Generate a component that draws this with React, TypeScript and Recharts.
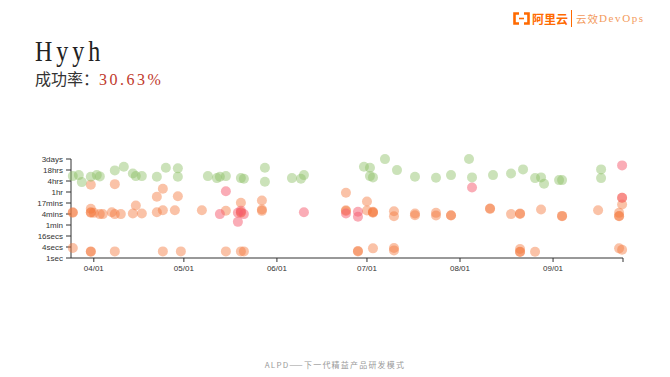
import { ScatterChart, Scatter, XAxis, YAxis } from "recharts";

// run results: [date, duration in seconds]
const successRuns: [string, number][] = [
  ['03/25', 30400], ['03/27', 34400], ['03/28', 14230], ['03/31', 28130], ['04/02', 34400],
  ['04/03', 29250], ['04/08', 62400], ['04/11', 99700], ['04/14', 42600], ['04/15', 30400],
  ['04/17', 30400], ['04/22', 28130], ['04/25', 87700], ['04/29', 80500], ['04/29', 28130],
  ['05/09', 30400], ['05/12', 23600], ['05/13', 28130], ['05/15', 30400], ['05/20', 23600],
  ['05/21', 21860], ['05/28', 87700], ['05/28', 14950], ['06/06', 23600], ['06/09', 21860],
  ['06/10', 34400], ['06/30', 99700], ['07/02', 87700], ['07/02', 30400], ['07/03', 25800],
  ['07/07', 259000], ['07/11', 64600], ['07/17', 28130], ['07/24', 24840], ['07/29', 34400],
  ['08/04', 262000], ['08/05', 25800], ['08/12', 34400], ['08/18', 42600], ['08/22', 70800],
  ['08/26', 23600], ['08/28', 25800], ['08/29', 11590], ['09/03', 18300], ['09/04', 18300],
  ['09/17', 70800], ['09/17', 23600],
];

const failedRuns: [string, number][] = [
  ['03/31', 10230], ['04/08', 11030], ['04/22', 2245], ['04/24', 6170], ['04/29', 2420], ['04/15', 745],
  ['03/25', 320], ['03/25', 300], ['03/31', 491], ['03/31', 320], ['03/31', 300], ['04/01', 296],
  ['04/03', 252], ['04/04', 252], ['04/07', 320], ['04/08', 252], ['04/10', 252], ['04/14', 270],
  ['04/17', 270], ['04/22', 320], ['04/24', 412], ['04/28', 412], ['05/07', 412],
  ['03/25', 3.54], ['03/31', 2.3], ['03/31', 2.2], ['04/08', 2.3], ['04/24', 2.3], ['04/30', 2.3],
  ['05/15', 383], ['05/20', 1049], ['05/27', 1409], ['05/27', 452], ['05/27', 380], ['05/20', 320], ['05/20', 300],
  ['06/24', 3717], ['06/24', 412], ['06/24', 370], ['07/01', 1238], ['07/01', 397],
  ['07/03', 320], ['07/03', 300], ['07/03', 340], ['07/10', 362], ['07/10', 193],
  ['07/17', 270], ['07/17', 219], ['07/24', 296], ['07/24', 211], ['07/29', 219], ['07/29', 210],
  ['05/15', 2.3], ['05/20', 2.3], ['05/21', 2.3], ['06/28', 2.42], ['06/28', 2.3],
  ['07/03', 3.37], ['07/10', 3.54], ['07/10', 2.61],
  ['08/11', 512], ['08/11', 490], ['08/18', 252], ['08/21', 270], ['08/21', 260], ['08/28', 452],
  ['09/04', 202], ['09/04', 195], ['09/16', 412], ['09/23', 296], ['09/23', 193], ['09/23', 200],
  ['09/24', 843], ['09/24', 1964],
  ['08/21', 3.12], ['08/21', 2.14], ['08/21', 2.2], ['08/26', 2.22], ['09/23', 3.37], ['09/24', 2.85],
];

const canceledRuns: [string, number][] = [
  ['05/15', 4550], ['05/13', 252], ['05/19', 95], ['05/21', 252], ['05/19', 300], ['05/20', 380],
  ['06/10', 320], ['06/24', 270], ['06/28', 343], ['06/28', 179], ['08/05', 7230],
  ['09/24', 117000], ['09/24', 1964],
];

const xTickDates = ['04/01', '05/01', '06/01', '07/01', '08/01', '09/01'];
const yTickValues = [1, 4, 16, 64, 256, 1024, 4096, 16384, 65536, 262144];
const yTickLabels = ['1sec', '4secs', '16secs', '1min', '4mins', '17mins', '1hr', '4hrs', '18hrs', '3days'];

const dayOf = (s: string) => {
  const [m, d] = s.split('/').map(Number);
  return (Date.UTC(2019, m - 1, d) - Date.UTC(2019, 3, 1)) / 86400000;
};
const toPoints = (rows: [string, number][]) => rows.map(([date, sec]) => ({ day: dayOf(date), sec }));

const X_END = 176.3;
const xTicks = [...xTickDates.map(dayOf), X_END];

const dot = (fill: string) => (p: any) => (
  <circle cx={p.cx} cy={p.cy} r={5} fill={fill} />
);

const tickStyle = { fontSize: 8, fill: '#333', fontFamily: 'Liberation Sans, Arial, sans-serif' };

function Logo() {
  return (
    <div style={{ position: 'absolute', left: 513, top: 9, height: 18, display: 'flex', alignItems: 'center' }}>
      <svg width="17" height="13" viewBox="0 0 17 13">
        <path d="M6 1.5 H1.5 V11.5 H6" fill="none" stroke="#ff6a00" strokeWidth="2.6" />
        <path d="M11 1.5 H15.5 V11.5 H11" fill="none" stroke="#ff6a00" strokeWidth="2.6" />
        <line x1="6" y1="6.5" x2="11" y2="6.5" stroke="#ff6a00" strokeWidth="1.6" />
      </svg>
      <span style={{ marginLeft: 2, fontFamily: 'Noto Sans CJK SC', fontWeight: 700, fontSize: 12, color: '#ff6a00' }}>阿里云</span>
      <span style={{ width: 1, height: 17, background: '#ff6a00', marginLeft: 3, marginRight: 4 }} />
      <span style={{ fontFamily: 'Noto Sans CJK SC', fontSize: 10.5, color: '#f39a5c', letterSpacing: 1 }}>云效</span>
      <span style={{ fontFamily: 'Liberation Serif', fontSize: 11, color: '#f39a5c', letterSpacing: 1.6 }}>DevOps</span>
    </div>
  );
}

export default function App() {
  return (
    <div style={{ position: 'fixed', left: 0, top: 0, width: 670, height: 377, background: '#fff', overflow: 'hidden' }}>
      <Logo />
      <div style={{
        position: 'absolute', left: 35, top: 36, fontFamily: 'Liberation Serif', fontSize: 30, lineHeight: '30px',
        color: '#222', letterSpacing: 5, transform: 'scaleX(0.8)', transformOrigin: 'left top', whiteSpace: 'nowrap'
      }}>Hyyh</div>
      <div style={{ position: 'absolute', left: 35, top: 69, whiteSpace: 'nowrap', lineHeight: '18px' }}>
        <span style={{ fontFamily: 'Noto Sans CJK SC', fontSize: 16, color: '#333' }}>成功率：</span>
        <span style={{ fontFamily: 'Liberation Serif', fontSize: 16, color: '#c0392b', letterSpacing: 2.5 }}>30.63%</span>
      </div>

      <div style={{ position: 'absolute', left: 0, top: 0 }}>
        <ScatterChart width={670} height={377} margin={{ top: 159, right: 47, bottom: 89, left: 11 }}>
          <XAxis
            type="number"
            dataKey="day"
            domain={[-7.6, X_END]}
            ticks={xTicks}
            interval={0}
            tickFormatter={(v: number) => {
              const i = xTicks.indexOf(v);
              return i >= 0 && i < xTickDates.length ? xTickDates[i] : '';
            }}
            height={30}
            tickSize={4}
            tickMargin={3}
            tick={tickStyle}
            stroke="#333"
          />
          <YAxis
            type="number"
            dataKey="sec"
            scale="log"
            domain={[1, 262144]}
            ticks={yTickValues}
            interval={0}
            tickFormatter={(v: number) => yTickLabels[yTickValues.indexOf(v)] ?? ''}
            width={60}
            tickSize={5}
            tickMargin={3}
            tick={tickStyle}
            stroke="#333"
          />
          <Scatter data={toPoints(failedRuns)} shape={dot('rgba(244,120,60,0.45)')} isAnimationActive={false} />
          <Scatter data={toPoints(canceledRuns)} shape={dot('rgba(245,90,110,0.5)')} isAnimationActive={false} />
          <Scatter data={toPoints(successRuns)} shape={dot('rgba(140,190,100,0.45)')} isAnimationActive={false} />
        </ScatterChart>
      </div>

      <div style={{
        position: 'absolute', left: 0, top: 360, width: 670, textAlign: 'center', fontFamily: 'Noto Sans CJK SC',
        fontSize: 8, lineHeight: '10px', color: '#999', letterSpacing: 1.2
      }}>ALPD——下一代精益产品研发模式</div>
    </div>
  );
}
